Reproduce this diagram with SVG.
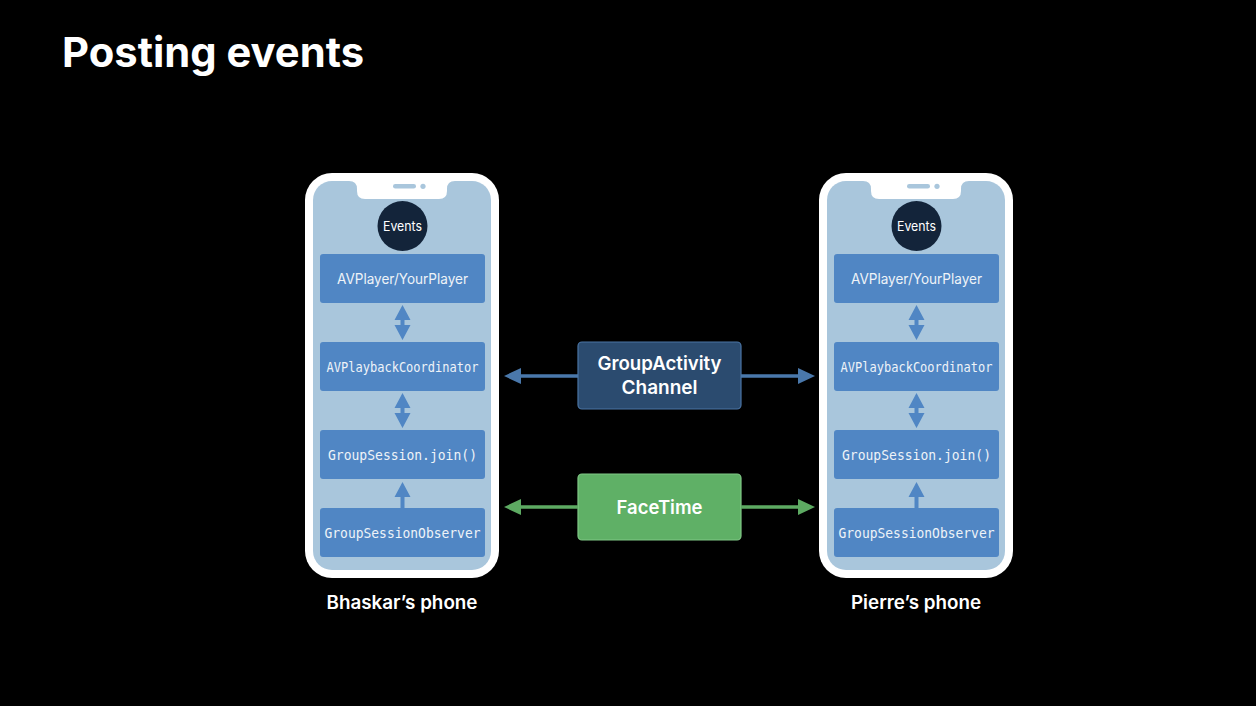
<svg xmlns="http://www.w3.org/2000/svg" width="1256" height="706" viewBox="0 0 1256 706">
<defs>
<style>
.title{font-family:Inter,"Liberation Sans",sans-serif;font-weight:700;fill:#fff}
.lbl{font-family:Inter,"Liberation Sans",sans-serif;font-weight:600;fill:#fff;font-size:18.5px}
.box{fill:#5086C4}
.mono{font-family:"DejaVu Sans Mono","Liberation Mono",monospace;font-size:13.5px;fill:#EEF3F8}
.prop{font-family:Inter,"Liberation Sans",sans-serif;font-size:14px;fill:#EEF3F8}
.ev{font-family:Inter,"Liberation Sans",sans-serif;font-size:13px;fill:#fff}
.mid{font-family:Inter,"Liberation Sans",sans-serif;font-weight:600;font-size:19px;fill:#fff}
.ia{fill:#5086C4}
</style>
<g id="phoneShell">
<rect x="305" y="173" width="194" height="405" rx="27" fill="#fff"/>
<rect x="313" y="181" width="178" height="389" rx="19" fill="#A9C6DC"/>
<path d="M349 181 Q357 181 357 189 L357 191 Q357 199 365 199 L439 199 Q447 199 447 191 L447 189 Q447 181 455 181 Z" fill="#fff"/>
<rect x="393" y="184" width="23" height="4.5" rx="2.25" fill="#A9C6DC"/>
<circle cx="423" cy="186.3" r="2.6" fill="#A9C6DC"/>
</g>
</defs>
<rect width="1256" height="706" fill="#000"/>
<text class="title" x="62" y="67" font-size="41" textLength="302" lengthAdjust="spacingAndGlyphs">Posting events</text>

<g id="bhaskar-phone">
<use href="#phoneShell"/>
<text class="lbl" x="402" y="609" text-anchor="middle" textLength="151" lengthAdjust="spacingAndGlyphs">Bhaskar’s phone</text>
</g>
<g id="bhaskar-events">
<circle cx="402.5" cy="226" r="25" fill="#13243A"/>
<text class="ev" x="402.5" y="230.5" text-anchor="middle" textLength="39" lengthAdjust="spacingAndGlyphs">Events</text>
</g>
<g id="bhaskar-avplayer">
<rect class="box" x="320" y="254" width="165" height="49" rx="3"/>
<text class="prop" x="402.5" y="283.5" text-anchor="middle" textLength="131" lengthAdjust="spacingAndGlyphs">AVPlayer/YourPlayer</text>
</g>
<g id="bhaskar-coordinator">
<rect class="box" x="320" y="342" width="165" height="49" rx="3"/>
<text class="mono" x="402.5" y="371.5" text-anchor="middle" textLength="152" lengthAdjust="spacingAndGlyphs">AVPlaybackCoordinator</text>
</g>
<g id="bhaskar-join">
<rect class="box" x="320" y="430" width="165" height="49" rx="3"/>
<text class="mono" x="402.5" y="459.5" text-anchor="middle" textLength="149" lengthAdjust="spacingAndGlyphs">GroupSession.join()</text>
</g>
<g id="bhaskar-observer">
<rect class="box" x="320" y="508" width="165" height="49" rx="3"/>
<text class="mono" x="402.5" y="537.5" text-anchor="middle" textLength="156" lengthAdjust="spacingAndGlyphs">GroupSessionObserver</text>
</g>

<g id="pierre-phone">
<use href="#phoneShell" transform="translate(514,0)"/>
<text class="lbl" x="916" y="609" text-anchor="middle" textLength="130" lengthAdjust="spacingAndGlyphs">Pierre’s phone</text>
</g>
<g id="pierre-events">
<circle cx="916.5" cy="226" r="25" fill="#13243A"/>
<text class="ev" x="916.5" y="230.5" text-anchor="middle" textLength="39" lengthAdjust="spacingAndGlyphs">Events</text>
</g>
<g id="pierre-avplayer">
<rect class="box" x="834" y="254" width="165" height="49" rx="3"/>
<text class="prop" x="916.5" y="283.5" text-anchor="middle" textLength="131" lengthAdjust="spacingAndGlyphs">AVPlayer/YourPlayer</text>
</g>
<g id="pierre-coordinator">
<rect class="box" x="834" y="342" width="165" height="49" rx="3"/>
<text class="mono" x="916.5" y="371.5" text-anchor="middle" textLength="152" lengthAdjust="spacingAndGlyphs">AVPlaybackCoordinator</text>
</g>
<g id="pierre-join">
<rect class="box" x="834" y="430" width="165" height="49" rx="3"/>
<text class="mono" x="916.5" y="459.5" text-anchor="middle" textLength="149" lengthAdjust="spacingAndGlyphs">GroupSession.join()</text>
</g>
<g id="pierre-observer">
<rect class="box" x="834" y="508" width="165" height="49" rx="3"/>
<text class="mono" x="916.5" y="537.5" text-anchor="middle" textLength="156" lengthAdjust="spacingAndGlyphs">GroupSessionObserver</text>
</g>

<g id="groupactivity-channel">
<rect x="578" y="342" width="163" height="67" rx="4" fill="#2B4B6F" stroke="#4A74A4" stroke-width="1.2"/>
<text class="mid" x="659.5" y="370" text-anchor="middle" textLength="124" lengthAdjust="spacingAndGlyphs">GroupActivity</text>
<text class="mid" x="659.5" y="394" text-anchor="middle" textLength="76" lengthAdjust="spacingAndGlyphs">Channel</text>
</g>
<g id="facetime">
<rect x="578" y="474" width="163" height="66" rx="4" fill="#5FB066" stroke="#80C886" stroke-width="1.2"/>
<text class="mid" x="659.5" y="514" text-anchor="middle" textLength="86" lengthAdjust="spacingAndGlyphs">FaceTime</text>
</g>

<g id="connectors">
<g class="ia">
<path d="M402.5 305 L410.5 320 L404.5 320 L404.5 325 L410.5 325 L402.5 340 L394.5 325 L400.5 325 L400.5 320 L394.5 320 Z"/>
<path d="M402.5 393 L410.5 408 L404.5 408 L404.5 413 L410.5 413 L402.5 428 L394.5 413 L400.5 413 L400.5 408 L394.5 408 Z"/>
<path d="M402.5 482 L410.5 497 L404.5 497 L404.5 508 L400.5 508 L400.5 497 L394.5 497 Z"/>
<path d="M916.5 305 L924.5 320 L918.5 320 L918.5 325 L924.5 325 L916.5 340 L908.5 325 L914.5 325 L914.5 320 L908.5 320 Z"/>
<path d="M916.5 393 L924.5 408 L918.5 408 L918.5 413 L924.5 413 L916.5 428 L908.5 413 L914.5 413 L914.5 408 L908.5 408 Z"/>
<path d="M916.5 482 L924.5 497 L918.5 497 L918.5 508 L914.5 508 L914.5 497 L908.5 497 Z"/>
</g>
<line x1="518" y1="376" x2="578" y2="376" stroke="#4A78AB" stroke-width="3.5"/>
<path d="M504 376 L521 368 L521 384 Z" fill="#4A78AB"/>
<line x1="741" y1="376" x2="801" y2="376" stroke="#4A78AB" stroke-width="3.5"/>
<path d="M815 376 L798 368 L798 384 Z" fill="#4A78AB"/>
<line x1="518" y1="507" x2="578" y2="507" stroke="#5DAA62" stroke-width="3.5"/>
<path d="M504 507 L521 499 L521 515 Z" fill="#5DAA62"/>
<line x1="741" y1="507" x2="801" y2="507" stroke="#5DAA62" stroke-width="3.5"/>
<path d="M815 507 L798 499 L798 515 Z" fill="#5DAA62"/>
</g>
</svg>
